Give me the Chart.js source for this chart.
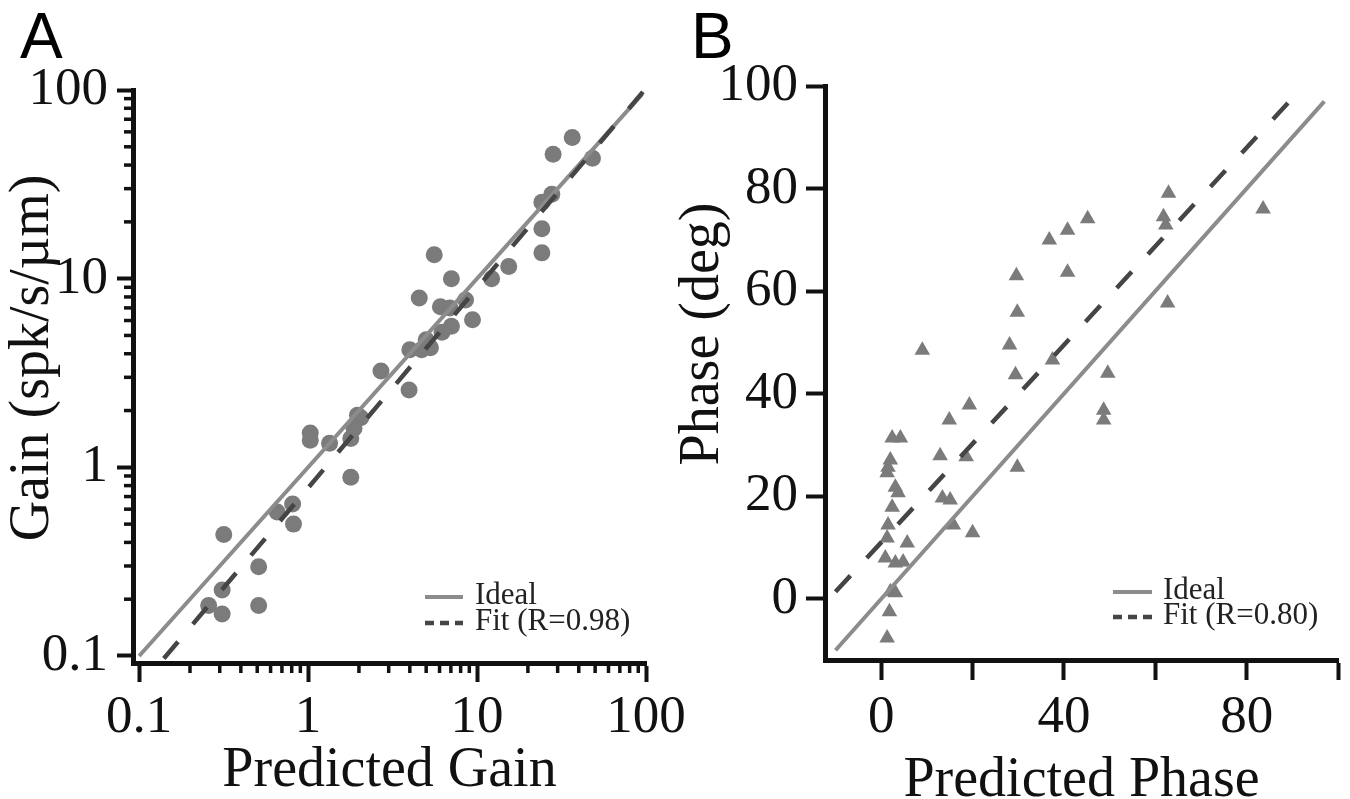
<!DOCTYPE html>
<html>
<head>
<meta charset="utf-8">
<script src="https://cdn.jsdelivr.net/npm/chart.js@4"></script>
<style>
  body { margin: 0; background: #fff; width: 1350px; height: 799px; overflow: hidden; position: relative; }
  canvas { position: absolute; top: 0; }
  .panel { position: absolute; font-family: "Liberation Sans", Arial, sans-serif; font-size: 64px; line-height: 64px; color: #000; }
</style>
</head>
<body>
<div class="panel" style="left:20px;top:4px">A</div>
<div class="panel" style="left:691px;top:4px">B</div>
<canvas id="gain" width="700" height="799" style="left:0"></canvas>
<canvas id="phase" width="680" height="799" style="left:670px"></canvas>
<script>
// panel A : gain (log-log)
const gainPredicted = [36.6, 28.2, 48.2, 27.7, 24.2, 24.2, 24.2, 15.4, 12.2, 5.58, 7.05, 4.55, 6.07, 6.9,
  8.55, 9.4, 7.05, 6.2, 5.0, 5.3, 4.7, 4.0, 2.7, 3.96, 1.03, 1.03, 1.34, 1.79, 1.96, 2.05, 1.87, 1.79,
  0.656, 0.81, 0.82, 0.317, 0.51, 0.51, 0.31, 0.258, 0.31];
const gainMeasured = [56, 45.7, 43.5, 28, 25.4, 18.4, 13.7, 11.6, 10.0, 13.4, 10.0, 7.9, 7.1, 7.0,
  7.7, 6.05, 5.6, 5.2, 4.75, 4.3, 4.2, 4.2, 3.24, 2.57, 1.52, 1.39, 1.34, 1.42, 1.89, 1.83, 1.61, 0.886,
  0.58, 0.64, 0.50, 0.44, 0.297, 0.185, 0.224, 0.185, 0.167];
const gainIdealX = [0.1, 95];
const gainIdealY = [0.1, 95];
const gainFitX = [0.14, 98];
const gainFitY = [0.097, 100];
const gainTicks = [0.1, 1, 10, 100];
const gainMinor = [2, 3, 4, 5, 6, 7, 8, 9];

// panel B : phase
const phasePredicted = [62.9, 61.8, 62.3, 83.6, 45.2, 40.8, 36.8, 40.8, 29.6, 29.8, 62.7, 9.0, 28.1, 37.5,
  29.4, 49.6, 48.7, 48.7, 19.3, 14.9, 2.4, 4.2, 2.0, 1.5, 1.3, 12.9, 18.6, 29.8, 3.1, 3.7, 13.4, 15.1,
  2.4, 1.5, 15.8, 20.0, 1.3, 5.7, 0.9, 3.1, 4.8, 2.0, 3.1, 1.8, 1.3];
const phaseMeasured = [79.1, 74.5, 72.9, 76.0, 74.1, 71.9, 70.0, 63.7, 63.0, 55.9, 57.7, 48.5, 49.5, 46.6,
  43.7, 44.0, 36.8, 34.9, 37.8, 34.9, 31.4, 31.4, 27.1, 25.7, 24.6, 27.9, 27.7, 25.7, 21.8, 20.7, 19.7, 19.3,
  17.9, 14.4, 14.4, 12.9, 11.9, 10.9, 8.0, 7.0, 7.2, 1.4, 1.2, -2.5, -7.6];
const phaseIdealX = [-10, 97];
const phaseIdealY = [-10, 97];
const phaseFitX = [-10, 92.5];
const phaseFitY = [1.4, 100];
const phaseTicks = [0, 20, 40, 60, 80, 100];
const phaseXLabels = [0, 40, 80];

Chart.defaults.font.family = '"Liberation Serif", "Times New Roman", serif';
Chart.defaults.color = '#111';

const pts = (xs, ys) => xs.map((x, i) => ({ x: x, y: ys[i] }));

// short minor ticks on log axes
const minorTicks = {
  id: 'minorTicks',
  afterDraw(chart) {
    const ctx = chart.ctx;
    const xs = chart.scales.x, ys = chart.scales.y;
    ctx.save();
    ctx.strokeStyle = '#111';
    ctx.lineWidth = 3.5;
    for (let d = 0.1; d < 100; d *= 10) {
      gainMinor.forEach(k => {
        const v = k * d;
        const px = xs.getPixelForValue(v);
        ctx.beginPath(); ctx.moveTo(px, xs.top); ctx.lineTo(px, xs.top + 10); ctx.stroke();
        const py = ys.getPixelForValue(v);
        ctx.beginPath(); ctx.moveTo(ys.right, py); ctx.lineTo(ys.right - 9, py); ctx.stroke();
      });
    }
    ctx.restore();
  }
};

const miniLegend = {
  id: 'miniLegend',
  afterDraw(chart, args, opts) {
    const { ctx, chartArea } = chart;
    ctx.save();
    ctx.font = '31px "Liberation Serif"';
    ctx.textBaseline = 'alphabetic';
    opts.rows.forEach((row, i) => {
      const y = chartArea.bottom - opts.bottom + i * opts.gap;
      ctx.strokeStyle = row.color;
      ctx.lineWidth = row.width;
      ctx.setLineDash(row.dash);
      ctx.beginPath();
      ctx.moveTo(chartArea.right - opts.lineFrom, y);
      ctx.lineTo(chartArea.right - opts.lineTo, y);
      ctx.stroke();
      ctx.setLineDash([]);
      ctx.fillStyle = '#222';
      ctx.fillText(row.text, chartArea.right - opts.textFrom, y + 7);
    });
    ctx.restore();
  }
};

// rotated y-axis title, a bit above the middle of the axis like the original
const sideTitle = {
  id: 'sideTitle',
  afterDraw(chart, args, o) {
    const { ctx, chartArea } = chart;
    ctx.save();
    ctx.translate(o.x, chartArea.top + o.fromTop);
    ctx.rotate(-Math.PI / 2);
    ctx.font = '56px "Liberation Serif"';
    ctx.fillStyle = '#111';
    ctx.textAlign = 'center';
    ctx.textBaseline = 'middle';
    ctx.fillText(o.text, 0, 0);
    ctx.restore();
  }
};

const axisBorder = { display: true, color: '#111', width: 5 };
const tickGrid = len => ({ display: true, drawOnChartArea: false, drawTicks: true, tickLength: len, tickWidth: 4, tickColor: '#111' });

new Chart(document.getElementById('gain'), {
  type: 'scatter',
  data: {
    datasets: [
      { label: 'Ideal', data: pts(gainIdealX, gainIdealY), showLine: true, pointRadius: 0,
        borderColor: '#8c8c8c', borderWidth: 4, order: 1, clip: false },
      { label: 'Fit (R=0.98)', data: pts(gainFitX, gainFitY), showLine: true, pointRadius: 0,
        borderColor: '#454545', borderWidth: 4.5, borderDash: [22, 23], order: 0, clip: false },
      { label: 'cells', data: pts(gainPredicted, gainMeasured), pointRadius: 8.5, pointStyle: 'circle',
        backgroundColor: '#7b7b7b', borderWidth: 0, order: 2, clip: false }
    ]
  },
  options: {
    responsive: false,
    animation: false,
    layout: { padding: { top: 90, right: 54, left: 0, bottom: 0 } },
    plugins: {
      legend: { display: false },
      tooltip: { enabled: false },
      sideTitle: { text: 'Gain (spk/s/µm)', x: 33, fromTop: 268 },
      miniLegend: {
        bottom: 66, gap: 26, lineFrom: 221, lineTo: 183, textFrom: 171,
        rows: [
          { text: 'Ideal', color: '#8c8c8c', width: 4, dash: [] },
          { text: 'Fit (R=0.98)', color: '#454545', width: 4.5, dash: [9, 6] }
        ]
      }
    },
    scales: {
      x: {
        type: 'logarithmic', min: 0.092, max: 100,
        afterBuildTicks: s => { s.ticks = gainTicks.map(v => ({ value: v })); },
        afterFit: s => { s.height = 136; },
        border: axisBorder,
        grid: tickGrid(19),
        ticks: { font: { size: 53 }, padding: 4, maxRotation: 0, autoSkip: false, callback: v => String(v) },
        title: { display: true, text: 'Predicted Gain', font: { size: 56, lineHeight: 1 }, padding: 0 }
      },
      y: {
        type: 'logarithmic', min: 0.0918, max: 100,
        afterBuildTicks: s => { s.ticks = gainTicks.map(v => ({ value: v })); },
        afterFit: s => { s.width = 133; },
        border: axisBorder,
        grid: tickGrid(16),
        ticks: { font: { size: 53 }, padding: 9, autoSkip: false, callback: v => String(v) },
        title: { display: false }
      }
    }
  },
  plugins: [minorTicks, miniLegend, sideTitle]
});

new Chart(document.getElementById('phase'), {
  type: 'scatter',
  data: {
    datasets: [
      { label: 'Ideal', data: pts(phaseIdealX, phaseIdealY), showLine: true, pointRadius: 0,
        borderColor: '#8c8c8c', borderWidth: 4, order: 1, clip: false },
      { label: 'Fit (R=0.80)', data: pts(phaseFitX, phaseFitY), showLine: true, pointRadius: 0,
        borderColor: '#454545', borderWidth: 4.5, borderDash: [22, 24], order: 0, clip: false },
      { label: 'cells', data: pts(phasePredicted, phaseMeasured), pointRadius: 9, pointStyle: 'triangle',
        backgroundColor: '#7b7b7b', borderWidth: 0, order: 2, clip: false }
    ]
  },
  options: {
    responsive: false,
    animation: false,
    layout: { padding: { top: 86, right: 12, left: 0, bottom: 0 } },
    plugins: {
      legend: { display: false },
      tooltip: { enabled: false },
      sideTitle: { text: 'Phase (deg)', x: 33, fromTop: 248 },
      miniLegend: {
        bottom: 68, gap: 25, lineFrom: 225, lineTo: 186, textFrom: 175,
        rows: [
          { text: 'Ideal', color: '#8c8c8c', width: 4, dash: [] },
          { text: 'Fit (R=0.80)', color: '#454545', width: 4.5, dash: [9, 6] }
        ]
      }
    },
    scales: {
      x: {
        type: 'linear', min: -12.3, max: 100,
        afterBuildTicks: s => { s.ticks = phaseTicks.map(v => ({ value: v })); },
        afterFit: s => { s.height = 139; },
        border: axisBorder,
        grid: tickGrid(20),
        ticks: { font: { size: 53 }, padding: 6, maxRotation: 0, autoSkip: false,
          callback: v => phaseXLabels.includes(v) ? String(v) : '' },
        title: { display: true, text: 'Predicted Phase', font: { size: 56, lineHeight: 1 }, padding: { top: 0, bottom: -10 } }
      },
      y: {
        type: 'linear', min: -11.9, max: 100,
        afterBuildTicks: s => { s.ticks = phaseTicks.map(v => ({ value: v })); },
        afterFit: s => { s.width = 155; },
        border: axisBorder,
        grid: tickGrid(19),
        ticks: { font: { size: 53 }, padding: 8, autoSkip: false, callback: v => String(v) },
        title: { display: false }
      }
    }
  },
  plugins: [miniLegend, sideTitle]
});
</script>
</body>
</html>
